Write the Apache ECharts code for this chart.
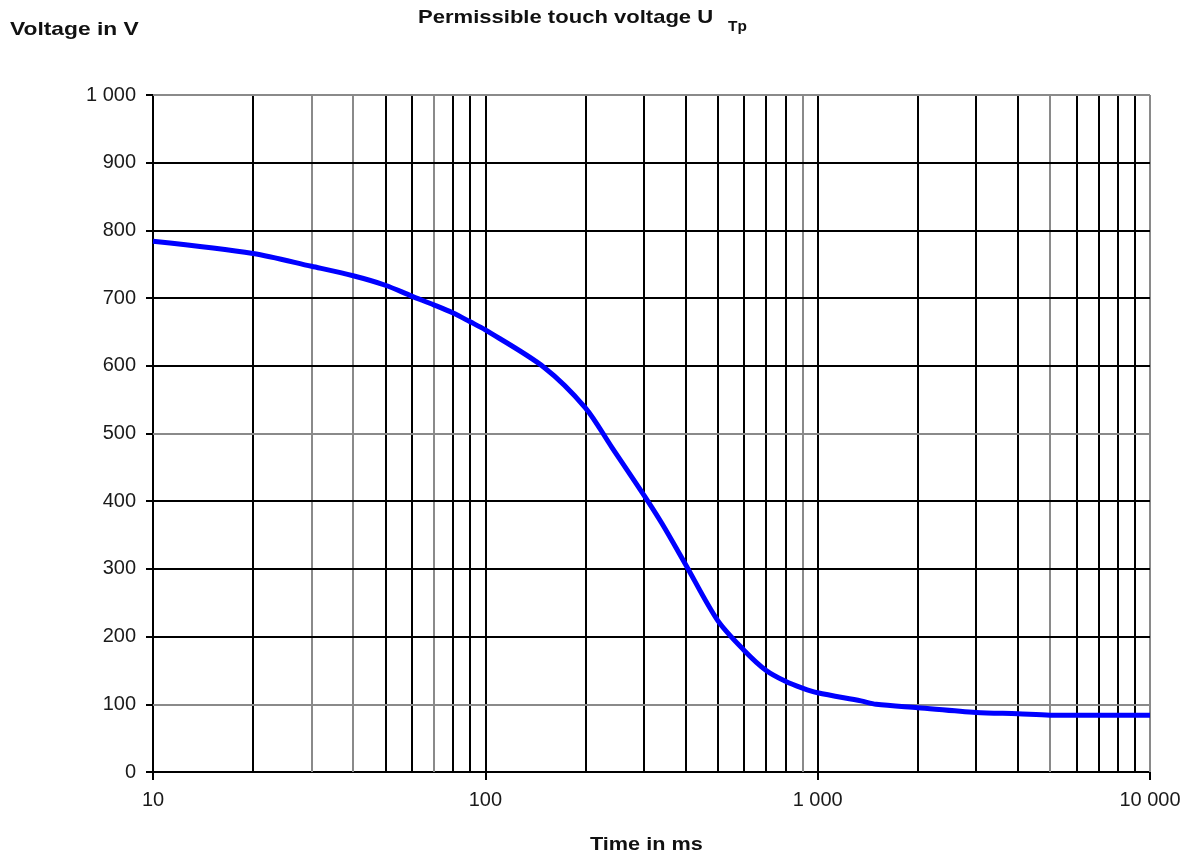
<!DOCTYPE html>
<html>
<head>
<meta charset="utf-8">
<script src="https://cdn.jsdelivr.net/npm/echarts@6/dist/echarts.min.js"></script>
<style>html,body{margin:0;padding:0;background:#fff}#c{width:1189px;height:857px}</style>
</head>
<body>
<div id="c"></div>
<script>
// Data
const timeMs = [10,20,30,40,50,60,70,80,90,100,150,200,240,300,340,400,500,600,700,800,900,1000,1350,1500,2000,3000,4000,5000,10000];
const voltage = [784,766,747,733,719,703,690,678,665,653,598,538,480,409,367,307,224,180,150,134,124,117,105,100,95,88,86,84,84];

// Grid line positions (x: ms, y: V); grey ones drawn lighter as in the reference
const xGridBlack = [20,50,60,80,90,100,200,300,400,500,600,700,800,1000,2000,3000,4000,6000,7000,8000,9000];
const xGridGrey = [30,40,70,900,5000,10000];
const yGridBlack = [200,300,400,600,700,800,900];
const yGridGrey = [100,500,1000];

const xTickLabels = {10:'10',100:'100',1000:'1 000',10000:'10 000'};
const yTickLabels = {0:'0',100:'100',200:'200',300:'300',400:'400',500:'500',600:'600',700:'700',800:'800',900:'900',1000:'1 000'};

const BLACK = {color:'#000', width:2, type:'solid'};
const GREY = {color:'#8a8a8a', width:2, type:'solid'};

const gridLines = [];
xGridBlack.forEach(v => gridLines.push({xAxis:v, lineStyle:BLACK}));
xGridGrey.forEach(v => gridLines.push({xAxis:v, lineStyle:GREY}));
yGridBlack.forEach(v => gridLines.push({yAxis:v, lineStyle:BLACK}));
yGridGrey.forEach(v => gridLines.push({yAxis:v, lineStyle:GREY}));

const points = timeMs.map((t,i) => [t, voltage[i]]);
const FONT = '"Liberation Sans", Arial, sans-serif';

const chart = echarts.init(document.getElementById('c'), null, {renderer:'canvas'});
chart.setOption({
  animation:false,
  backgroundColor:'#fff',
  grid:{left:153, right:39, top:95, bottom:85},
  xAxis:{
    type:'log', logBase:10, min:10, max:10000,
    axisLine:{show:true, onZero:false, lineStyle:{color:'#000', width:2}},
    axisTick:{show:true, length:8, lineStyle:{color:'#000', width:2}},
    minorTick:{show:false},
    splitLine:{show:false},
    axisLabel:{margin:18, fontSize:20, color:'#1a1a1a', fontFamily:FONT,
      formatter: v => xTickLabels[Math.round(v)] || ''}
  },
  yAxis:{
    type:'value', min:0, max:1000, interval:100,
    axisLine:{show:true, onZero:false, lineStyle:{color:'#000', width:2}},
    axisTick:{show:true, length:7, lineStyle:{color:'#000', width:2}},
    splitLine:{show:false},
    axisLabel:{margin:17, fontSize:20, color:'#1a1a1a', fontFamily:FONT,
      formatter: v => yTickLabels[Math.round(v)] || ''}
  },
  series:[
    {
      type:'line', data:points, z:1, silent:true,
      showSymbol:false, lineStyle:{opacity:0},
      markLine:{silent:true, symbol:['none','none'], label:{show:false},
        emphasis:{disabled:true}, animation:false, data:gridLines}
    },
    {
      type:'line', data:points, z:5, smooth:0.3, showSymbol:false, silent:true,
      lineStyle:{color:'#0000ff', width:5}
    }
  ],
  graphic:[
    {type:'text', x:10, y:20, scaleX:1.2, style:{text:'Voltage in V', font:'bold 19px '+FONT, fill:'#111'}},
    {type:'text', x:418, y:8, scaleX:1.16, style:{text:'Permissible touch voltage U', font:'bold 19px '+FONT, fill:'#111'}},
    {type:'text', x:728, y:20, scaleX:1.1, style:{text:'Tp', font:'bold 14px '+FONT, fill:'#111'}},
    {type:'text', x:590, y:835, scaleX:1.14, style:{text:'Time in ms', font:'bold 19px '+FONT, fill:'#111'}}
  ]
});
</script>
</body>
</html>
